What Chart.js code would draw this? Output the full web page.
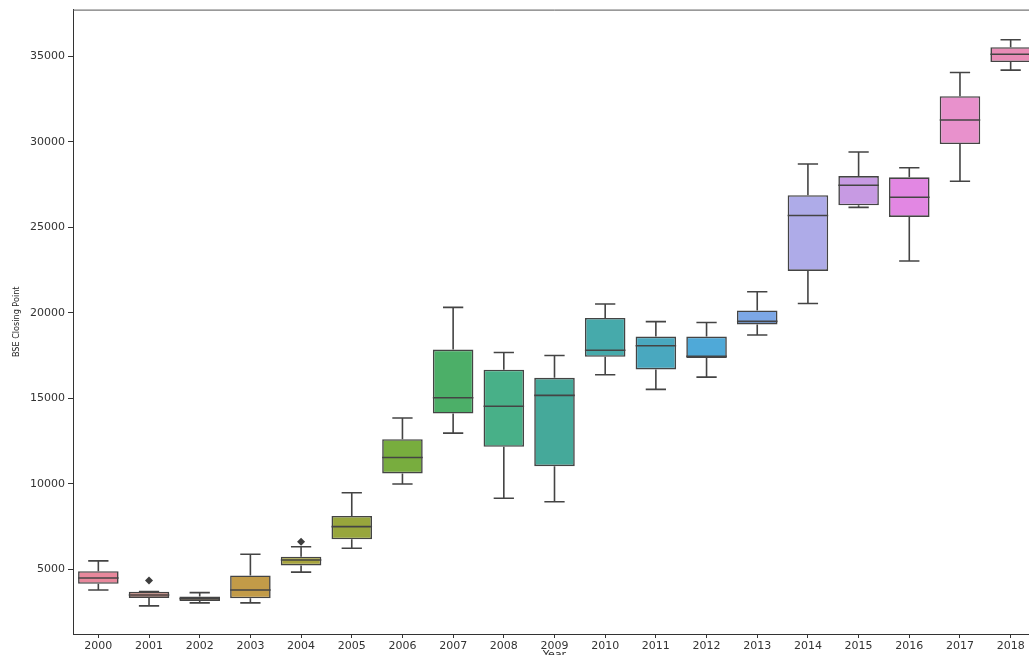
<!DOCTYPE html>
<html>
<head>
<meta charset="utf-8">
<script src="https://cdn.jsdelivr.net/npm/chart.js@4"></script>
<style>
  html, body { margin: 0; padding: 0; background: #fff; overflow: hidden; }
  #wrap { width: 1040px; height: 662px; }
</style>
</head>
<body>
<div id="wrap"><canvas id="myChart"></canvas></div>
<script>
// BSE closing point per year
const years = ['2000', '2001', '2002', '2003', '2004', '2005', '2006', '2007', '2008', '2009',
               '2010', '2011', '2012', '2013', '2014', '2015', '2016', '2017', '2018'];
const whiskerLow = [3780, 2855, 3030, 3030, 4830, 6230, 9985, 12960, 9150, 8950,
                    16380, 15520, 16240, 18700, 20550, 26170, 23035, 27700, 34200];
const q1 = [4150, 3320, 3145, 3295, 5220, 6750, 10605, 14105, 12160, 11030,
            17430, 16690, 17350, 19310, 22450, 26290, 25610, 29870, 34670];
const median = [4490, 3495, 3280, 3785, 5535, 7490, 11540, 15035, 14530, 15170,
                17810, 18070, 17460, 19500, 25690, 27460, 26760, 31280, 35130];
const q3 = [4880, 3675, 3400, 4635, 5730, 8118, 12605, 17850, 16670, 16200,
            19700, 18610, 18610, 20140, 26880, 28000, 27925, 32670, 35540];
const whiskerHigh = [5490, 3690, 3630, 5875, 6315, 9470, 13850, 20320, 17680, 17500,
                     20520, 19485, 19430, 21235, 28705, 29410, 28485, 34060, 35980];
const outliers = [null, 4345, null, null, 6605, null, null, null, null, null,
                  null, null, null, null, null, null, null, null, null];
const boxColors = ['#e8889c', '#e38a7c', '#c4935e', '#c29b48', '#a8a43e', '#98a63c', '#78ad3e',
                   '#4caf68', '#48b088', '#45a99a', '#46aaab', '#49a8bf', '#4fa9d8', '#7ca7e6',
                   '#aeabe8', '#c79ae3', '#e287e3', '#e891cc', '#e98cb6'];
const yTicks = [5000, 10000, 15000, 20000, 25000, 30000, 35000];

const edge = '#444444';

// whiskers, caps and median lines, placed with the chart's own scales
const boxLines = {
  id: 'boxLines',
  afterDatasetsDraw(chart) {
    const ctx = chart.ctx;
    const x = chart.scales.x;
    const y = chart.scales.y;
    const bars = chart.getDatasetMeta(0).data;
    ctx.save();
    ctx.strokeStyle = edge;
    ctx.lineWidth = 1.6;
    years.forEach((yr, i) => {
      const cx = x.getPixelForValue(i);
      const half = bars[i].width / 2;
      const cap = half / 2;
      ctx.beginPath();
      ctx.moveTo(cx, y.getPixelForValue(q3[i]));
      ctx.lineTo(cx, y.getPixelForValue(whiskerHigh[i]));
      ctx.moveTo(cx, y.getPixelForValue(q1[i]));
      ctx.lineTo(cx, y.getPixelForValue(whiskerLow[i]));
      ctx.moveTo(cx - cap, y.getPixelForValue(whiskerHigh[i]));
      ctx.lineTo(cx + cap, y.getPixelForValue(whiskerHigh[i]));
      ctx.moveTo(cx - cap, y.getPixelForValue(whiskerLow[i]));
      ctx.lineTo(cx + cap, y.getPixelForValue(whiskerLow[i]));
      ctx.moveTo(cx - half, y.getPixelForValue(median[i]));
      ctx.lineTo(cx + half, y.getPixelForValue(median[i]));
      ctx.stroke();
    });
    // top spine
    ctx.strokeStyle = '#555';
    ctx.lineWidth = 1;
    ctx.beginPath();
    ctx.moveTo(chart.chartArea.left, chart.chartArea.top + 0.5);
    ctx.lineTo(chart.chartArea.right, chart.chartArea.top + 0.5);
    ctx.stroke();
    ctx.restore();
  }
};

const ctx = document.getElementById('myChart').getContext('2d');
const myChart = new Chart(ctx, {
  data: {
    labels: years,
    datasets: [{
      type: 'bar',
      data: years.map((yr, i) => [q1[i], q3[i]]),
      backgroundColor: boxColors,
      borderColor: edge,
      borderWidth: 1.6,
      borderSkipped: false,
      barPercentage: 0.8,
      categoryPercentage: 1.0
    }, {
      type: 'line',
      data: outliers,
      showLine: false,
      pointStyle: 'rectRot',
      pointRadius: 4,
      pointBackgroundColor: '#3d3d3d',
      pointBorderColor: '#3d3d3d',
      pointBorderWidth: 0
    }]
  },
  options: {
    responsive: true,
    maintainAspectRatio: false,
    animation: false,
    layout: { padding: { left: 0, right: 1, top: 8, bottom: 0 } },
    plugins: {
      legend: { display: false },
      tooltip: { enabled: false }
    },
    scales: {
      x: {
        offset: true,
        afterFit: s => { s.height = 28; },
        grid: { display: true, offset: false, drawOnChartArea: false, tickLength: 4, color: '#333' },
        border: { color: '#333', width: 1 },
        ticks: { color: '#333', font: { family: 'DejaVu Sans', size: 11 }, padding: 2, maxRotation: 0 },
        title: { display: true, text: 'Year', color: '#333',
                 font: { family: 'DejaVu Sans', size: 11, lineHeight: 1.2 }, padding: 0 }
      },
      y: {
        min: 1210,
        max: 37740,
        afterBuildTicks: s => { s.ticks = yTicks.map(v => ({ value: v })); },
        afterFit: s => { s.width = 73; },
        grid: { display: true, drawOnChartArea: false, tickLength: 5, color: '#333' },
        border: { color: '#333', width: 1 },
        ticks: { color: '#333', font: { family: 'DejaVu Sans', size: 11 }, padding: 3,
                 callback: v => String(v) },
        title: { display: true, text: 'BSE Closing Point', color: '#222',
                 font: { family: '"DejaVu Sans Condensed", "DejaVu Sans", sans-serif', size: 9 },
                 padding: { top: 11, bottom: 0 } }
      }
    }
  },
  plugins: [boxLines]
});
</script>
</body>
</html>
